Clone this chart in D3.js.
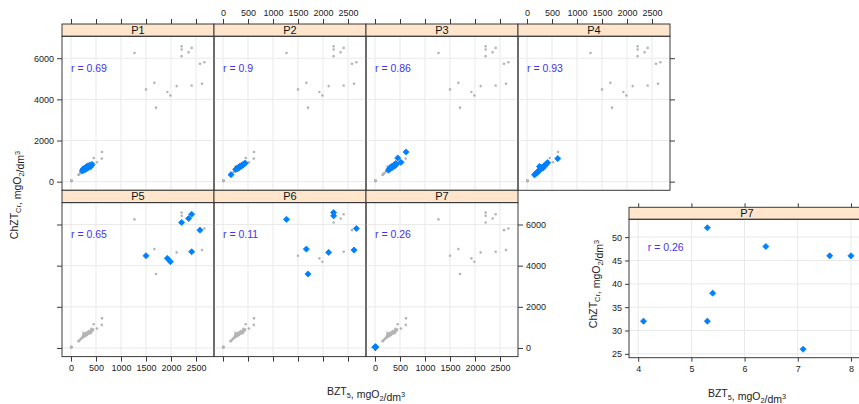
<!DOCTYPE html>
<html>
<head>
<meta charset="utf-8">
<script src="https://cdn.jsdelivr.net/npm/d3@7"></script>
<style>
body { margin: 0; background: #fff; }
svg { display: block; font-family: "Liberation Sans", Arial, sans-serif; }
</style>
</head>
<body>
<svg id="chart" width="859" height="404"></svg>
<script>
// Data (BZT5, ChZTcr) per group
var panelNames = ['P1', 'P2', 'P3', 'P4', 'P5', 'P6', 'P7'];
var rValues = ['0.69', '0.9', '0.86', '0.93', '0.65', '0.11', '0.26'];

var p1 = [[225,520],[240,610],[255,560],[270,650],[285,590],[300,700],[310,620],[325,760],[340,680],[355,730],[370,800],[390,720],[405,790],[420,830]];
var p2 = [[160,340],[255,590],[270,620],[285,660],[300,640],[310,700],[325,690],[335,730],[345,760],[360,740],[375,790],[390,800],[405,830],[425,870],[445,900]];
var p3 = [[620,1440],[455,1150],[520,940],[270,560],[290,610],[305,690],[320,650],[340,740],[355,700],[375,800],[395,760],[410,880],[430,850]];
var p4 = [[150,330],[175,390],[195,430],[215,470],[235,520],[250,740],[250,560],[265,600],[280,640],[300,700],[320,660],[345,780],[370,820],[410,930],[615,1120]];
var p5 = [[2413,6500],[2353,6290],[2213,6100],[2580,5725],[1500,4483],[2413,4675],[1927,4355],[1987,4193]];
var p6 = [[1270,6250],[2213,6580],[2213,6420],[2667,5805],[1667,4805],[2113,4645],[2620,4757],[1700,3597]];
var p7Bzt = [4.1, 5.3, 5.3, 5.4, 6.4, 7.1, 7.6, 8.0];
var p7Chzt = [32, 52, 32, 38, 48, 26, 46, 46];

var xTicks = [0, 500, 1000, 1500, 2000, 2500];
var yTicks = [0, 2000, 4000, 6000];
var insetXTicks = [4, 5, 6, 7, 8];
var insetYTicks = [25, 30, 35, 40, 45, 50];

var p7 = p7Bzt.map(function(d, i) { return [d, p7Chzt[i]]; });
var groups = [p1, p2, p3, p4, p5, p6, p7];
var allPoints = [].concat(p1, p2, p3, p4, p5, p6, p7);

var svg = d3.select('#chart');

var stripFill = '#ffe5cc';
var frameCol = '#3a3a3a';
var gridCol = '#e9e9e9';
var grayCol = '#b5b5b5';
var blueCol = '#0080ff';
var rCol = '#4433ee';

// layout of the lattice
var left0 = 62, colW = 152, top0 = 24, rowH = 166.3, stripH = 12.3;

var blueSym = d3.symbol().type(d3.symbolDiamond2).size(24);

function fmtTitle(sel, parts, size) {
    parts.forEach(function(p) {
        var t = sel.append('tspan').text(p[0]);
        if (p[1] === 'sub') {
            t.attr('dy', 3).attr('font-size', size * 0.7);
            sel.append('tspan').attr('dy', -3).text('');
        } else if (p[1] === 'sup') {
            t.attr('dy', -4).attr('font-size', size * 0.7);
            sel.append('tspan').attr('dy', 4).text('');
        }
    });
}

var yTitleParts = [['ChZT'], ['Cr', 'sub'], [', mgO'], ['2', 'sub'], ['/dm'], ['3', 'sup']];
var xTitleParts = [['BZT'], ['5', 'sub'], [', mgO'], ['2', 'sub'], ['/dm'], ['3', 'sup']];

function styleAxis(g) {
    g.select('.domain').remove();
    g.selectAll('.tick line').attr('stroke', frameCol);
    g.selectAll('.tick text').attr('fill', '#222').attr('font-size', 9);
}

for (var i = 0; i < 7; i++) {
    var col = i % 4, row = Math.floor(i / 4);
    var px = left0 + col * colW;
    var rowTop = top0 + row * rowH;
    var pTop = rowTop + stripH, pBot = rowTop + rowH;

    var x = d3.scaleLinear().domain([-180, 2860]).range([px, px + colW]);
    var y = d3.scaleLinear().domain([-420, 7065]).range([pBot, pTop]);

    var g = svg.append('g');

    // grid
    g.selectAll('.vg').data(xTicks).enter().append('line')
        .attr('x1', function(d) { return x(d); }).attr('x2', function(d) { return x(d); })
        .attr('y1', pTop).attr('y2', pBot)
        .attr('stroke', gridCol).attr('stroke-width', 1);
    g.selectAll('.hg').data(yTicks).enter().append('line')
        .attr('y1', function(d) { return y(d); }).attr('y2', function(d) { return y(d); })
        .attr('x1', px).attr('x2', px + colW)
        .attr('stroke', gridCol).attr('stroke-width', 1);

    // all points grey
    g.selectAll('.gp').data(allPoints).enter().append('circle')
        .attr('cx', function(d) { return x(d[0]); })
        .attr('cy', function(d) { return y(d[1]); })
        .attr('r', 1.3)
        .attr('fill', grayCol);

    // this group in blue
    g.selectAll('.bp').data(groups[i]).enter().append('path')
        .attr('d', blueSym)
        .attr('transform', function(d) { return 'translate(' + x(d[0]) + ',' + y(d[1]) + ')'; })
        .attr('fill', blueCol)
        .attr('stroke', blueCol)
        .attr('stroke-width', 0.8);

    g.append('text')
        .attr('x', x(0)).attr('y', y(5470))
        .attr('dominant-baseline', 'middle')
        .attr('font-size', 10.5)
        .attr('fill', rCol)
        .text('r = ' + rValues[i]);

    // strip
    g.append('rect')
        .attr('x', px).attr('y', rowTop).attr('width', colW).attr('height', stripH)
        .attr('fill', stripFill).attr('stroke', frameCol).attr('stroke-width', 1);
    g.append('text')
        .attr('x', px + colW / 2).attr('y', rowTop + stripH / 2 + 0.5)
        .attr('text-anchor', 'middle').attr('dominant-baseline', 'middle')
        .attr('font-size', 11).attr('fill', '#111')
        .text(panelNames[i]);

    // panel frame
    g.append('rect')
        .attr('x', px).attr('y', pTop).attr('width', colW).attr('height', pBot - pTop)
        .attr('fill', 'none').attr('stroke', frameCol).attr('stroke-width', 1);

    // axes
    if (row === 0) {
        g.append('g').attr('transform', 'translate(0,' + rowTop + ')')
            .call(d3.axisTop(x).tickValues(xTicks).tickSize(5).tickPadding(3).tickSizeOuter(0)
                .tickFormat(col % 2 === 1 ? d3.format('d') : ''))
            .call(styleAxis);
    }
    if (row === 1) {
        g.append('g').attr('transform', 'translate(0,' + pBot + ')')
            .call(d3.axisBottom(x).tickValues(xTicks).tickSize(5).tickPadding(3).tickSizeOuter(0)
                .tickFormat(col % 2 === 0 ? d3.format('d') : ''))
            .call(styleAxis);
    }
    if (col === 0) {
        g.append('g').attr('transform', 'translate(' + px + ',0)')
            .call(d3.axisLeft(y).tickValues(yTicks).tickSize(5).tickPadding(3).tickSizeOuter(0)
                .tickFormat(row === 0 ? d3.format('d') : ''))
            .call(styleAxis);
    }
    if (col === 3 || i === 6) {
        g.append('g').attr('transform', 'translate(' + (px + colW) + ',0)')
            .call(d3.axisRight(y).tickValues(yTicks).tickSize(5).tickPadding(3).tickSizeOuter(0)
                .tickFormat(row === 1 ? d3.format('d') : ''))
            .call(styleAxis);
    }
}

// axis titles of the lattice
svg.append('text')
    .attr('transform', 'translate(18,195) rotate(-90)')
    .attr('text-anchor', 'middle').attr('font-size', 10.5).attr('fill', '#222')
    .call(fmtTitle, yTitleParts, 10.5);
svg.append('text')
    .attr('x', 366).attr('y', 395)
    .attr('text-anchor', 'middle').attr('font-size', 10.5).attr('fill', '#222')
    .call(fmtTitle, xTitleParts, 10.5);

// ---- inset: P7 on its own scale ----
var pad = 0.07;
var xe = d3.extent(p7Bzt), ye = d3.extent(p7Chzt);
var ix = d3.scaleLinear()
    .domain([xe[0] - pad * (xe[1] - xe[0]), xe[1] + pad * (xe[1] - xe[0])])
    .range([629, 865.5]);
var iy = d3.scaleLinear()
    .domain([ye[0] - pad * (ye[1] - ye[0]), ye[1] + pad * (ye[1] - ye[0])])
    .range([357.7, 219.3]);

var ig = svg.append('g');
ig.selectAll('.vg').data(insetXTicks).enter().append('line')
    .attr('x1', function(d) { return ix(d); }).attr('x2', function(d) { return ix(d); })
    .attr('y1', 219.3).attr('y2', 357.7)
    .attr('stroke', gridCol);
ig.selectAll('.hg').data(insetYTicks).enter().append('line')
    .attr('y1', function(d) { return iy(d); }).attr('y2', function(d) { return iy(d); })
    .attr('x1', 629).attr('x2', 865.5)
    .attr('stroke', gridCol);

ig.selectAll('.bp').data(p7).enter().append('path')
    .attr('d', blueSym)
    .attr('transform', function(d) { return 'translate(' + ix(d[0]) + ',' + iy(d[1]) + ')'; })
    .attr('fill', blueCol)
    .attr('stroke', blueCol)
    .attr('stroke-width', 0.8);

ig.append('text')
    .attr('x', ix(4.18)).attr('y', iy(47.7))
    .attr('dominant-baseline', 'middle')
    .attr('font-size', 10.5).attr('fill', rCol)
    .text('r = ' + rValues[6]);

ig.append('rect')
    .attr('x', 629).attr('y', 207.3).attr('width', 236.5).attr('height', 12)
    .attr('fill', stripFill).attr('stroke', frameCol);
ig.append('text')
    .attr('x', 747).attr('y', 213.8)
    .attr('text-anchor', 'middle').attr('dominant-baseline', 'middle')
    .attr('font-size', 11).attr('fill', '#111')
    .text('P7');
ig.append('rect')
    .attr('x', 629).attr('y', 219.3).attr('width', 236.5).attr('height', 138.4)
    .attr('fill', 'none').attr('stroke', frameCol);

ig.append('g').attr('transform', 'translate(0,207.3)')
    .call(d3.axisTop(ix).tickValues(insetXTicks).tickSize(4).tickFormat('').tickSizeOuter(0))
    .call(styleAxis);
ig.append('g').attr('transform', 'translate(0,357.7)')
    .call(d3.axisBottom(ix).tickValues(insetXTicks).tickSize(4).tickPadding(4).tickSizeOuter(0)
        .tickFormat(d3.format('d')))
    .call(styleAxis);
ig.append('g').attr('transform', 'translate(629,0)')
    .call(d3.axisLeft(iy).tickValues(insetYTicks).tickSize(4).tickPadding(3).tickSizeOuter(0))
    .call(styleAxis);

svg.append('text')
    .attr('transform', 'translate(597,284) rotate(-90)')
    .attr('text-anchor', 'middle').attr('font-size', 10.5).attr('fill', '#222')
    .call(fmtTitle, yTitleParts, 10.5);
svg.append('text')
    .attr('x', 747).attr('y', 397)
    .attr('text-anchor', 'middle').attr('font-size', 10.5).attr('fill', '#222')
    .call(fmtTitle, xTitleParts, 10.5);
</script>
</body>
</html>
